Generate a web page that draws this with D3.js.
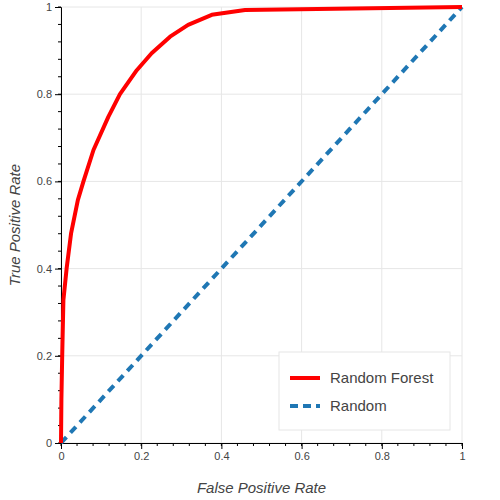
<!DOCTYPE html>
<html><head><meta charset="utf-8">
<script src="https://cdn.jsdelivr.net/npm/d3@7"></script>
<style>body{margin:0;background:#fff}text{font-family:"Liberation Sans",Arial,sans-serif}</style>
</head><body><svg id="chart" width="500" height="500"></svg>
<script>
const fpr = [0, 0.001, 0.003, 0.006, 0.014, 0.025, 0.042, 0.056, 0.081, 0.118, 0.147, 0.189, 0.226, 0.272, 0.317, 0.376, 0.459, 1];
const tpr = [0, 0.1, 0.2, 0.328, 0.4, 0.48, 0.557, 0.6, 0.672, 0.748, 0.8, 0.855, 0.894, 0.932, 0.959, 0.982, 0.993, 1];
const randomLine = [0, 1];
const ticks = [0, 0.2, 0.4, 0.6, 0.8, 1];
const legendLabels = ["Random Forest", "Random"];

const svg = d3.select("#chart");
const m = { left: 61, right: 462, top: 7, bottom: 443 };
const x = d3.scaleLinear().domain([0, 1]).range([m.left, m.right]);
const y = d3.scaleLinear().domain([0, 1]).range([m.bottom, m.top]);
const fmt = d => (d === 0 || d === 1) ? String(d) : d.toFixed(1);

// grid
svg.append("g").selectAll("line").data(ticks).join("line")
  .attr("x1", d => x(d)).attr("x2", d => x(d)).attr("y1", m.top).attr("y2", m.bottom)
  .attr("stroke", "#e6e6e6");
svg.append("g").selectAll("line").data(ticks).join("line")
  .attr("y1", d => y(d)).attr("y2", d => y(d)).attr("x1", m.left).attr("x2", m.right)
  .attr("stroke", "#e6e6e6");

const xAxis = svg.append("g").attr("transform", `translate(0,${m.bottom})`)
  .call(d3.axisBottom(x).tickValues(ticks).tickFormat(fmt).tickSizeOuter(0).tickSize(6));
const yAxis = svg.append("g").attr("transform", `translate(${m.left},0)`)
  .call(d3.axisLeft(y).tickValues(ticks).tickFormat(fmt).tickSizeOuter(0).tickSize(6));
[xAxis, yAxis].forEach(a => a.selectAll("text").attr("font-size", 11).attr("fill", "#444"));
// minor ticks
const minor = d3.range(0, 1.0001, 0.04);
xAxis.selectAll(".minor").data(minor).join("line").attr("x1", d => x(d)).attr("x2", d => x(d))
  .attr("y1", 0).attr("y2", 3).attr("stroke", "#000");
yAxis.selectAll(".minor").data(minor).join("line").attr("y1", d => y(d)).attr("y2", d => y(d))
  .attr("x1", 0).attr("x2", -3).attr("stroke", "#000");

// random diagonal
svg.append("line")
  .attr("x1", x(randomLine[0])).attr("y1", y(randomLine[0]))
  .attr("x2", x(randomLine[1])).attr("y2", y(randomLine[1]))
  .attr("stroke", "#1f77b4").attr("stroke-width", 4).attr("stroke-dasharray", "8,6");

// ROC
svg.append("path")
  .datum(fpr.map((d, i) => [d, tpr[i]]))
  .attr("d", d3.line().x(d => x(d[0])).y(d => y(d[1])))
  .attr("fill", "none").attr("stroke", "red").attr("stroke-width", 4).attr("stroke-linejoin", "round");

// labels
svg.append("text").attr("x", (m.left + m.right) / 2).attr("y", 493).attr("text-anchor", "middle")
  .attr("font-size", 15).attr("font-style", "italic").attr("fill", "#444").text("False Positive Rate");
svg.append("text").attr("transform", `translate(20,${(m.top + m.bottom) / 2}) rotate(-90)`)
  .attr("text-anchor", "middle").attr("font-size", 15).attr("font-style", "italic").attr("fill", "#444")
  .text("True Positive Rate");

// legend
const lg = svg.append("g");
lg.append("rect").attr("x", 279).attr("y", 352).attr("width", 171).attr("height", 78)
  .attr("fill", "#fff").attr("stroke", "#e6e6e6");
legendLabels.forEach((t, i) => {
  const yy = 378 + i * 28;
  lg.append("line").attr("x1", 290).attr("x2", 320).attr("y1", yy).attr("y2", yy)
    .attr("stroke", i ? "#1f77b4" : "red").attr("stroke-width", 4)
    .attr("stroke-dasharray", i ? "8,5" : null);
  lg.append("text").attr("x", 330).attr("y", yy + 5).attr("font-size", 15).attr("fill", "#444").text(t);
});
</script></body></html>
